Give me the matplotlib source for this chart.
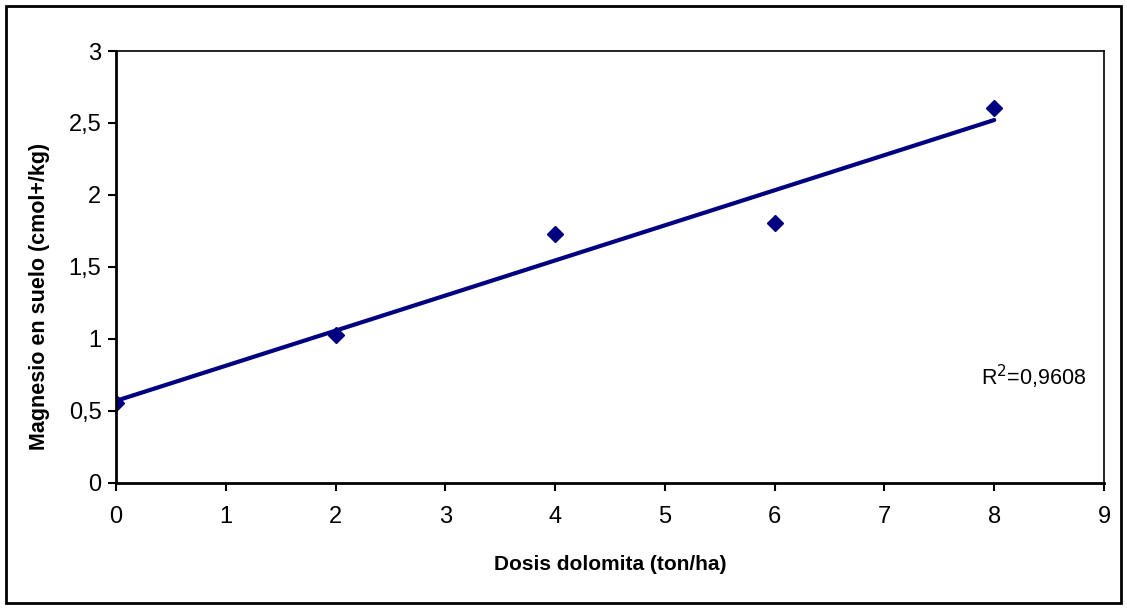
import numpy as np
import matplotlib
matplotlib.use("Agg")
import matplotlib.pyplot as plt
from matplotlib.patches import Rectangle

dosis = [0, 2, 4, 6, 8]
magnesio = [0.556, 1.026, 1.730, 1.805, 2.606]
x_ticks = [0, 1, 2, 3, 4, 5, 6, 7, 8, 9]
y_ticks = [0, 0.5, 1, 1.5, 2, 2.5, 3]
y_ticklabels = ["0", "0,5", "1", "1,5", "2", "2,5", "3"]
r2_text = "R$^2$=0,9608"

plt.rcParams['font.family'] = ['Liberation Sans', 'DejaVu Sans']

fig = plt.figure(figsize=(11.27, 6.10), dpi=100)
ax = fig.add_axes([116/1127, 1 - 482.7/610, (1104-116)/1127, (482.7-51)/610])

slope, intercept = np.polyfit(dosis, magnesio, 1)
xt = np.array([min(dosis), max(dosis)])
ax.plot(xt, intercept + slope*xt, color='#000080', lw=3.0, solid_capstyle='round')
ax.plot(dosis, magnesio, linestyle='none', marker='D', markersize=8, color='#000080')

ax.set_xlim(0, 9)
ax.set_ylim(0, 3)
ax.set_xticks(x_ticks)
ax.set_xticklabels([str(t) for t in x_ticks])
ax.set_yticks(y_ticks)
ax.set_yticklabels(y_ticklabels)
ax.tick_params(axis='both', direction='out', length=5.5, width=1.5, labelsize=17, color='black')
ax.tick_params(axis='x', pad=11)
ax.tick_params(axis='y', pad=5)
for s in ax.spines.values():
    s.set_linewidth(1.2)
ax.spines['left'].set_linewidth(2)
ax.spines['bottom'].set_linewidth(2)

fig.text(610/1127, 1 - 564/610, "Dosis dolomita (ton/ha)", ha='center', va='center',
         fontsize=15, fontweight='bold')
fig.text(40/1127, 1 - 296/610, "Magnesio en suelo (cmol+/kg)", ha='center', va='center',
         fontsize=15.5, fontweight='bold', rotation=90)
ax.text(8.84, 0.735, r2_text, ha='right', va='center', fontsize=15.5)

fig.patches.append(Rectangle((6/1127, 1 - 603/610), (1121-6)/1127, (603-6)/610,
                             transform=fig.transFigure, fill=False, edgecolor='black', lw=2))

fig.savefig("out.png", dpi=100)
